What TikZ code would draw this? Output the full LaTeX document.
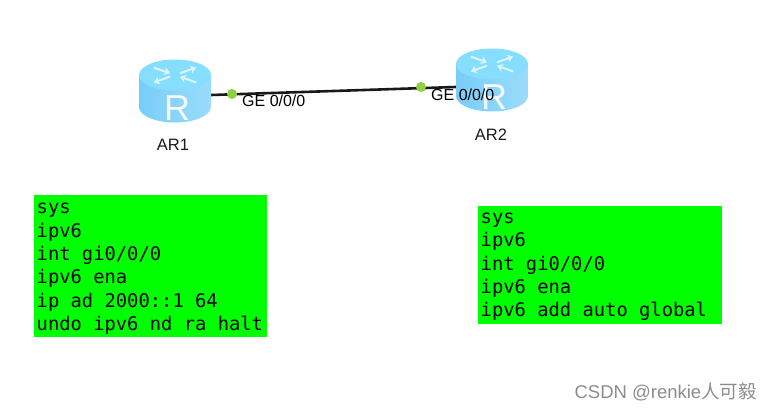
\documentclass[tikz,border=0pt]{standalone}
\usepackage{fontspec}
\setmainfont{Liberation Sans}
\setmonofont{DejaVu Sans Mono}
\newfontfamily\cjkfont{Noto Sans CJK SC}
\usetikzlibrary{arrows.meta}
\definecolor{routertop}{HTML}{86DEFF}
\definecolor{routerleft}{HTML}{78CDF8}
\definecolor{routerright}{HTML}{9ADCFB}
\definecolor{portgreen}{HTML}{8CD13F}
\definecolor{cligreen}{HTML}{00FF00}
\begin{document}
\begin{tikzpicture}[
  x=1pt, y=-1pt,
  routerbody/.style={inner sep=0pt, minimum width=72pt, minimum height=64pt},
  port/.style={circle, fill=portgreen, inner sep=0pt, minimum size=10pt},
  link/.style={line width=2.6pt, black!90},
  iflabel/.style={inner sep=0pt, anchor=west, font=\fontsize{16}{18}\selectfont, text=black},
  devlabel/.style={inner sep=0pt, font=\fontsize{16.5}{19}\selectfont, text=black!90},
  clibox/.style={fill=cligreen, anchor=north west, inner xsep=2.5pt, inner ysep=0pt, align=flush left,
    font=\ttfamily\fontsize{18.8}{23.4}\selectfont},
  routerpic/.pic={
    \path[left color=routerleft, right color=routerright]
      (-36,-16) -- (-36,16) arc [start angle=180, end angle=0, x radius=36, y radius=15.5] -- (36,-16) -- cycle;
    \fill[routertop] (0,-16) ellipse [x radius=36, y radius=15.5];
    % arrows on the lid
    \foreach \ang/\rev in {35/0, 145/1, 215/0, 325/1} {
      \ifnum\rev=0
        \draw[white!70!routertop, line width=2pt, -{Stealth[length=6pt,width=8pt]}]
          (\ang:6pt and 3pt) ++(0,-16) -- ++(\ang:20pt and 10pt);
      \else
        \draw[white!70!routertop, line width=2pt, {Stealth[length=6pt,width=8pt]}-]
          (\ang:6pt and 3pt) ++(0,-16) -- ++(\ang:20pt and 10pt);
      \fi
    }
    \node[text=white!92!routertop, inner sep=0pt, font=\fontsize{36}{36}\selectfont] at (2,17) {R};
  }
]
\useasboundingbox (0,0) rectangle (772,412);
% Routers
\node[routerbody] (ar1) at (175,91) {};
\node[routerbody] (ar2) at (492,80) {};
\draw[link] ([yshift=-4pt]ar1.east) -- ([yshift=-7pt]ar2.west);
\pic at (ar1) {routerpic};
\pic at (ar2) {routerpic};
\node[devlabel] (name1) at (173,145) {AR1};
\node[devlabel] (name2) at (491,135) {AR2};

% Ports
\node[port] (p1) at (232,94) {};
\node[port] (p2) at (421,87) {};
\node[iflabel] (if1) at (242,101) {GE 0/0/0};
\node[iflabel] (if2) at (431,95) {GE 0/0/0};

% Commands
\node[clibox, text width=228pt, minimum height=142pt] (cli1) at (34,195) {\rule{0pt}{16pt}sys\\ipv6\\int gi0/0/0\\ipv6 ena\\ip ad 2000::1 64\\undo ipv6 nd ra halt};
\node[clibox, text width=239pt, minimum height=118pt] (cli2) at (478,206) {\rule{0pt}{14pt}sys\\ipv6\\int gi0/0/0\\ipv6 ena\\ipv6 add auto global};

% Watermark
\node[inner sep=0pt, anchor=east, text=black!45, font=\fontsize{18.5}{22}\selectfont] (mark) at (757,392) {CSDN @renkie{\cjkfont 人可毅}};
\end{tikzpicture}
\end{document}
